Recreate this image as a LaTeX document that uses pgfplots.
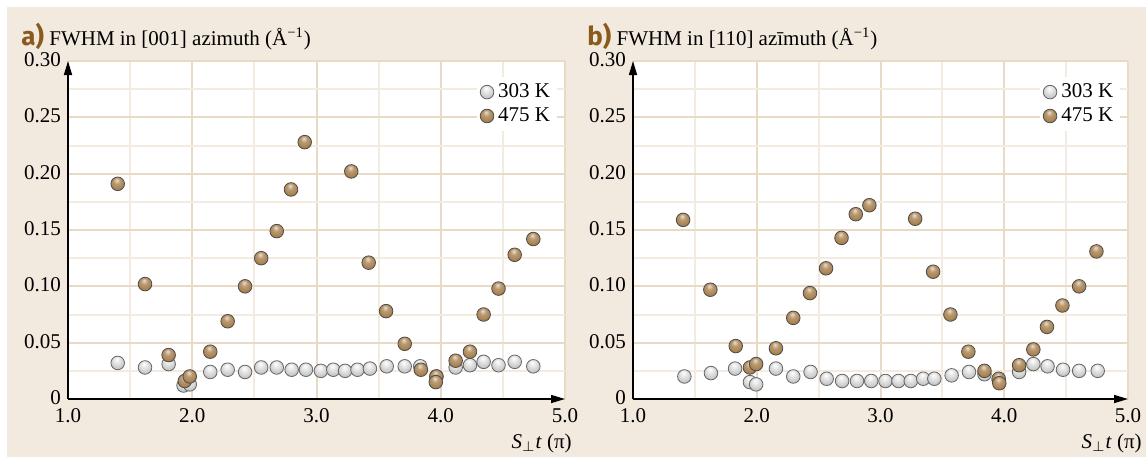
\documentclass[border=0pt]{standalone}
\usepackage{fontspec}
\setmainfont{Liberation Serif}
\newfontfamily\labfont{Fira Sans}
\usepackage{pgfplots}
\pgfplotsset{compat=1.18}
\usepackage{pgfplotstable}
\usetikzlibrary{arrows.meta}

\definecolor{panelbg}{HTML}{F2EADF}
\definecolor{gridmaj}{HTML}{E9DAC6}
\definecolor{gridmin}{HTML}{F3EBE0}
\definecolor{labbrown}{HTML}{8A5A1C}
\definecolor{bronze}{HTML}{A8804E}

% lighter balls than tikz's own ball color
\pgfdeclareradialshading{grayshade}{\pgfqpoint{-4bp}{14bp}}{%
  color(0bp)=(white); color(12bp)=(black!10); color(26bp)=(black!22);
  color(38bp)=(black!35); color(50bp)=(black!55)}
\pgfdeclareradialshading{bronzeshade}{\pgfqpoint{-4bp}{14bp}}{%
  color(0bp)=(bronze!25!white); color(12bp)=(bronze!80!white); color(26bp)=(bronze);
  color(38bp)=(bronze!70!black); color(50bp)=(bronze!40!black)}

% canvas units, otherwise (0,0) is read as axis cs inside the axis
\pgfdeclareplotmark{grayball}{\shadedraw[shading=grayshade, draw=black!60, line width=0.4pt] (0pt,0pt) circle (3.4pt);}
\pgfdeclareplotmark{bronzeball}{\shadedraw[shading=bronzeshade, draw=black!70, line width=0.4pt] (0pt,0pt) circle (3.4pt);}

% [001] azimuth
\pgfplotstableread{
x y
1.40 0.032
1.62 0.028
1.81 0.031
1.93 0.012
1.98 0.013
2.145 0.024
2.285 0.026
2.425 0.024
2.555 0.028
2.68 0.028
2.80 0.026
2.915 0.026
3.035 0.025
3.135 0.026
3.23 0.025
3.33 0.026
3.43 0.027
3.565 0.029
3.71 0.029
3.835 0.029
3.965 0.020
4.12 0.028
4.235 0.030
4.345 0.033
4.465 0.030
4.595 0.033
4.745 0.029
}\aLow
\pgfplotstableread{
x y
1.40 0.191
1.62 0.102
1.81 0.039
1.94 0.016
1.98 0.020
2.145 0.042
2.285 0.069
2.425 0.100
2.555 0.125
2.68 0.149
2.795 0.186
2.905 0.228
3.28 0.202
3.42 0.121
3.56 0.078
3.71 0.049
3.84 0.026
3.965 0.020
3.96 0.015
4.12 0.034
4.235 0.042
4.345 0.075
4.465 0.098
4.595 0.128
4.745 0.142
}\aHigh

% [1-10] azimuth
\pgfplotstableread{
x y
1.415 0.020
1.63 0.023
1.825 0.027
1.945 0.015
1.995 0.013
2.155 0.027
2.295 0.020
2.435 0.024
2.565 0.018
2.69 0.016
2.81 0.016
2.925 0.016
3.04 0.016
3.145 0.016
3.245 0.016
3.345 0.018
3.435 0.018
3.575 0.021
3.715 0.024
3.84 0.022
3.955 0.017
4.12 0.024
4.235 0.031
4.35 0.029
4.475 0.026
4.605 0.025
4.755 0.025
}\bLow
\pgfplotstableread{
x y
1.405 0.159
1.625 0.097
1.83 0.047
1.945 0.028
1.995 0.031
2.155 0.045
2.295 0.072
2.43 0.094
2.56 0.116
2.685 0.143
2.80 0.164
2.91 0.172
3.28 0.160
3.425 0.113
3.565 0.075
3.71 0.042
3.84 0.025
3.955 0.018
3.96 0.014
4.12 0.030
4.235 0.044
4.345 0.064
4.47 0.083
4.605 0.100
4.745 0.131
}\bHigh

\pgfplotsset{fwhm/.style={
    scale only axis,
    height=169pt,
    xmin=1, xmax=5, ymin=0, ymax=0.30,
    axis lines=left,
    axis line style={line width=0.8pt, -{Triangle[length=7pt,width=4pt]}},
    xtick={1,2,3,4,5}, xticklabels={1.0,2.0,3.0,4.0,5.0},
    ytick={0,0.05,0.10,0.15,0.20,0.25,0.30},
    yticklabels={0,0.05,0.10,0.15,0.20,0.25,0.30},
    minor xtick={1.5,2.5,3.5,4.5},
    minor ytick={0.025,0.075,0.125,0.175,0.225,0.275},
    grid=both,
    major grid style={gridmaj, line width=1pt},
    minor grid style={gridmin, line width=1pt},
    major tick length=0pt, minor tick length=0pt,
    tick label style={font=\fontsize{10.5}{12}\selectfont},
    xticklabel style={yshift=-1.2pt},
    yticklabel style={yshift=0.6pt},
    axis background/.style={fill=white},
    legend style={at={(rel axis cs:0.985,0.955)}, anchor=north east,
        draw=none, fill=white, font=\fontsize{10.5}{12}\selectfont,
        inner sep=1.5pt, row sep=-0.5pt},
    legend cell align=left,
    only marks,
}}

\begin{document}
\begin{tikzpicture}
\useasboundingbox (0,0) rectangle (573pt,228.5pt);
\fill[panelbg] (3.5pt,0) rectangle (573pt,225pt);

\begin{axis}[fwhm, width=248.5pt, at={(34pt,29pt)}, anchor=south west]
\addplot[mark=grayball] table {\aLow};
\addplot[mark=bronzeball] table {\aHigh};
\legend{303 K, 475 K}
\end{axis}

\begin{axis}[fwhm, width=247.5pt, at={(316.5pt,29pt)}, anchor=south west]
\addplot[mark=grayball] table {\bLow};
\addplot[mark=bronzeball] table {\bHigh};
\legend{303 K, 475 K}
\end{axis}

\node[anchor=base west, inner sep=0pt, font=\fontsize{10.5}{12}\selectfont] at (10.5pt,206pt)
  {{\labfont\bfseries\fontsize{13}{13}\selectfont\color{labbrown}a)} FWHM in [001] azimuth (Å\textsuperscript{−1})};
\node[anchor=base west, inner sep=0pt, font=\fontsize{10.5}{12}\selectfont] at (293.5pt,206pt)
  {{\labfont\bfseries\fontsize{13}{13}\selectfont\color{labbrown}b)} FWHM in [110] az\={\i}muth (Å\textsuperscript{−1})};

\node[anchor=base east, inner sep=0pt, font=\fontsize{10.5}{12}\selectfont] at (286pt,4.5pt)
  {\textit{S}$_{\perp}$\textit{t} (π)};
\node[anchor=base east, inner sep=0pt, font=\fontsize{10.5}{12}\selectfont] at (571pt,4.5pt)
  {\textit{S}$_{\perp}$\textit{t} (π)};
\end{tikzpicture}
\end{document}
